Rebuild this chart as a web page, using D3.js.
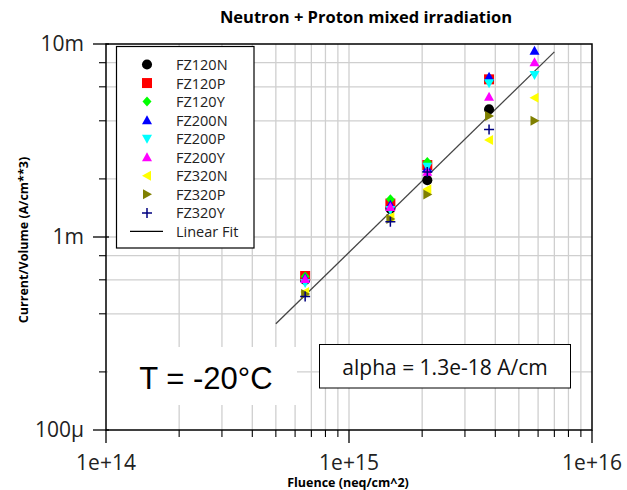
<!DOCTYPE html>
<html><head><meta charset="utf-8">
<script src="https://cdn.jsdelivr.net/npm/d3@7/dist/d3.min.js"></script>
<style>body{margin:0;background:#fff}svg{display:block}</style>
</head><body><svg id="c" width="627" height="490"></svg>
<script>
// ---- data ----
const fluence = [6.6e14, 1.48e15, 2.1e15, 3.77e15, 5.8e15];
const FZ120N = [0.60e-3, 1.40e-3, 1.97e-3, 4.59e-3, null];
const FZ120P = [0.628e-3, 1.49e-3, 2.36e-3, 6.56e-3, null];
const FZ120Y = [0.625e-3, 1.57e-3, 2.45e-3, 6.43e-3, null];
const FZ200N = [0.613e-3, 1.47e-3, 2.28e-3, 6.77e-3, 9.23e-3];
const FZ200P = [0.578e-3, 1.38e-3, 2.31e-3, 6.26e-3, 6.91e-3];
const FZ200Y = [0.606e-3, 1.43e-3, 2.18e-3, 5.33e-3, 8.04e-3];
const FZ320N = [0.519e-3, 1.27e-3, 1.77e-3, 3.18e-3, 5.27e-3];
const FZ320P = [0.507e-3, 1.24e-3, 1.66e-3, 4.24e-3, 4.00e-3];
const FZ320Y = [0.492e-3, 1.20e-3, 2.17e-3, 3.61e-3, null];
const seriesNames = ["FZ120N","FZ120P","FZ120Y","FZ200N","FZ200P","FZ200Y","FZ320N","FZ320P","FZ320Y"];
const seriesValues = [FZ120N,FZ120P,FZ120Y,FZ200N,FZ200P,FZ200Y,FZ320N,FZ320P,FZ320Y];
const fitX = [5e14, 7e15];
const fitY = [3.55e-4, 9.1e-3];
const xMajor = [1e14, 1e15, 1e16];
const xTickLabels = ["1e+14", "1e+15", "1e+16"];
const yMajor = [1e-4, 1e-3, 1e-2];
const yTickLabels = ["100\u00b5", "1m", "10m"];
const xMinorMult = [2,3,4,5,6,7,8,9];
const yMinorMult = [2,4,6,8];
const title = "Neutron + Proton mixed irradiation";
const xTitle = "Fluence (neq/cm^2)";
const yTitle = "Current/Volume (A/cm**3)";
const tempText = "T = -20\u00b0C";
const alphaText = "alpha = 1.3e-18 A/cm";
const fitLabel = "Linear Fit";

// ---- styles ----
const colors = ["#000000","#ff0000","#00ff00","#0000ff","#00ffff","#ff00ff","#ffff00","#808000","#000080"];
const shapes = ["circle","square","diamond","up","down","up","left","right","plus"];
const FONT = "'Open Sans', 'Noto Sans', sans-serif";

const svg = d3.select("#c");
const L = 106, R = 592, T = 44, B = 430;
const x = d3.scaleLog().domain([1e14, 1e16]).range([L, R]);
const y = d3.scaleLog().domain([1e-4, 1e-2]).range([B, T]);

const xMinor = [], yMinor = [];
[1e14, 1e15].forEach(d => xMinorMult.forEach(m => xMinor.push(d*m)));
[1e-4, 1e-3].forEach(d => yMinorMult.forEach(m => yMinor.push(d*m)));

// title
svg.append("text").attr("x", 366).attr("y", 23).attr("text-anchor","middle")
  .attr("font-family", FONT).attr("font-weight","bold").attr("font-size", 16.5).text(title);

// grid
const g = svg.append("g");
g.selectAll(".vg").data(xMinor.concat([1e15])).enter().append("line")
  .attr("x1", d=>x(d)).attr("x2", d=>x(d)).attr("y1", T).attr("y2", B)
  .attr("stroke","#cfcfcf").attr("stroke-width",1.3);
g.selectAll(".hg").data(yMinor.concat([1e-3])).enter().append("line")
  .attr("y1", d=>y(d)).attr("y2", d=>y(d)).attr("x1", L).attr("x2", R)
  .attr("stroke","#cfcfcf").attr("stroke-width",1.3);

// temperature label background
svg.append("rect").attr("x", 108).attr("y", 347).attr("width", 189).attr("height", 58).attr("fill","#fff");
svg.append("text").attr("x", 206).attr("y", 389).attr("text-anchor","middle")
  .attr("font-family","'Liberation Sans', Arial, sans-serif").attr("font-size", 31).text(tempText);

// alpha box
svg.append("rect").attr("x", 319.5).attr("y", 344.5).attr("width", 251).attr("height", 43.5)
  .attr("fill","#fff").attr("stroke","#000").attr("stroke-width",1);
svg.append("text").attr("x", 445).attr("y", 374.5).attr("text-anchor","middle")
  .attr("font-family", FONT).attr("font-size", 21).attr("fill","#111").text(alphaText);

// fit line
svg.append("line").attr("x1", x(fitX[0])).attr("y1", y(fitY[0])).attr("x2", x(fitX[1])).attr("y2", y(fitY[1]))
  .attr("stroke","#444").attr("stroke-width",1.3);

// marker path generator
function markerPath(shape){
  switch(shape){
    case "circle": return d3.symbol(d3.symbolCircle, 80)();
    case "square": return "M-5,-5H5V5H-5Z";
    case "diamond": return "M0,-5L4.5,0L0,5L-4.5,0Z";
    case "up": return "M0,-5L5,4L-5,4Z";
    case "down": return "M0,5L5,-4L-5,-4Z";
    case "left": return "M-5,0L4,-5L4,5Z";
    case "right": return "M5,0L-4,-5L-4,5Z";
    case "plus": return "M-5,0H5M0,-5V5";
  }
}
function drawMarker(sel, i){
  const p = sel.append("path").attr("d", markerPath(shapes[i]));
  if (shapes[i] === "plus") p.attr("fill","none").attr("stroke", colors[i]).attr("stroke-width",1.5);
  else p.attr("fill", colors[i]);
  return p;
}

// data points
seriesValues.forEach((vals, i) => {
  const gs = svg.append("g");
  vals.forEach((v, j) => {
    if (v == null) return;
    drawMarker(gs.append("g").attr("transform", `translate(${x(fluence[j])},${y(v)})`), i);
  });
});

// frame
svg.append("rect").attr("x", L).attr("y", T).attr("width", R-L).attr("height", B-T)
  .attr("fill","none").attr("stroke","#000").attr("stroke-width",1.5);

// axes ticks
const ax = svg.append("g");
ax.selectAll(".xM").data(xMajor).enter().append("line")
  .attr("x1", d=>x(d)).attr("x2", d=>x(d)).attr("y1", B).attr("y2", B+13).attr("stroke","#000").attr("stroke-width",1.3);
ax.selectAll(".xm").data(xMinor).enter().append("line")
  .attr("x1", d=>x(d)).attr("x2", d=>x(d)).attr("y1", B).attr("y2", B+7).attr("stroke","#000").attr("stroke-width",1.1);
ax.selectAll(".yM").data(yMajor).enter().append("line")
  .attr("y1", d=>y(d)).attr("y2", d=>y(d)).attr("x1", L-13).attr("x2", L+3).attr("stroke","#000").attr("stroke-width",1.3);
ax.selectAll(".ym").data(yMinor).enter().append("line")
  .attr("y1", d=>y(d)).attr("y2", d=>y(d)).attr("x1", L-7).attr("x2", L).attr("stroke","#000").attr("stroke-width",1.1);

ax.selectAll(".xl").data(xMajor).enter().append("text")
  .attr("x", d=>x(d)).attr("y", 470).attr("text-anchor","middle")
  .attr("font-family", FONT).attr("font-size", 21).attr("fill","#222").text((d,i)=>xTickLabels[i]);
ax.selectAll(".yl").data(yMajor).enter().append("text")
  .attr("x", 84).attr("y", d=>y(d)+7).attr("text-anchor","end")
  .attr("font-family", FONT).attr("font-size", 21).attr("fill","#222").text((d,i)=>yTickLabels[i]);

svg.append("text").attr("x", 348).attr("y", 487).attr("text-anchor","middle")
  .attr("font-family", FONT).attr("font-weight","bold").attr("font-size", 12.5).text(xTitle);
svg.append("text").attr("transform","translate(28,240) rotate(-90)").attr("text-anchor","middle")
  .attr("font-family", FONT).attr("font-weight","bold").attr("font-size", 12.5).text(yTitle);

// legend
const lg = svg.append("g");
lg.append("rect").attr("x", 116.5).attr("y", 46.5).attr("width", 137.5).attr("height", 201.5)
  .attr("fill","#fff").attr("stroke","#000").attr("stroke-width",1.2);
const rowY = i => 64.5 + i*18.55;
seriesNames.forEach((name, i) => {
  drawMarker(lg.append("g").attr("transform", `translate(147,${rowY(i)})`), i);
  lg.append("text").attr("x", 176).attr("y", rowY(i)+5.5)
    .attr("font-family", FONT).attr("font-size", 14.5).attr("fill","#222").text(name);
});
lg.append("line").attr("x1", 130).attr("x2", 163).attr("y1", rowY(9)).attr("y2", rowY(9)).attr("stroke","#000").attr("stroke-width",1.3);
lg.append("text").attr("x", 176).attr("y", rowY(9)+5.5)
  .attr("font-family", FONT).attr("font-size", 14.5).attr("fill","#222").text(fitLabel);
</script></body></html>
